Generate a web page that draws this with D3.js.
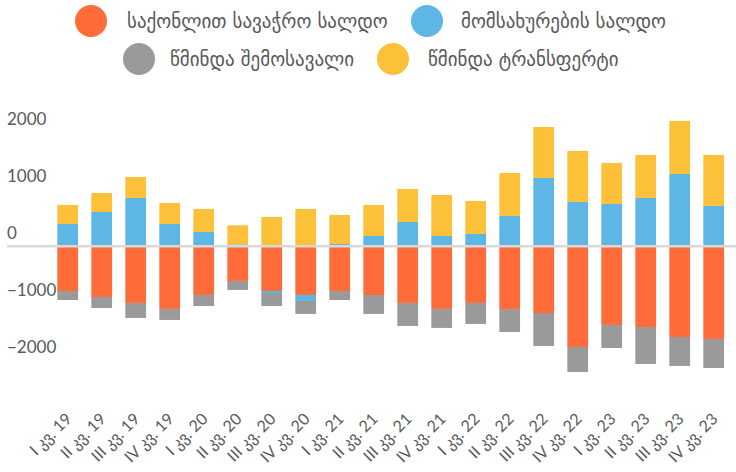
<!DOCTYPE html>
<html>
<head>
<meta charset="utf-8">
<script src="https://cdn.jsdelivr.net/npm/d3@7"></script>
<style>
  body { margin: 0; background: #fff; }
  text { font-family: "DejaVu Sans", sans-serif; }
</style>
</head>
<body>
<svg width="736" height="472"></svg>
<script>
var svg = d3.select('svg');

//quarter labels on the x axis
var categories = ['I კვ. 19','II კვ. 19','III კვ. 19','IV კვ. 19',
                  'I კვ. 20','II კვ. 20','III კვ. 20','IV კვ. 20',
                  'I კვ. 21','II კვ. 21','III კვ. 21','IV კვ. 21',
                  'I კვ. 22','II კვ. 22','III კვ. 22','IV კვ. 22',
                  'I კვ. 23','II კვ. 23','III კვ. 23','IV კვ. 23'];

//series values
var trade     = [-784,-889,-994,-1099,-854,-608,-784,-854,-784,-854,-994,-1099,-994,-1099,-1170,-1766,-1380,-1415,-1591,-1626];
var services  = [392,602,848,392,251,35,-35,-105,41,181,427,181,216,532,1199,778,743,848,1269,708];
var income    = [-158,-193,-263,-193,-193,-158,-228,-228,-158,-333,-404,-333,-368,-404,-579,-439,-404,-649,-509,-509];
var transfers = [333,333,368,368,404,333,515,655,509,544,579,719,579,754,895,895,719,754,930,895];

var seriesNames = ['საქონლით სავაჭრო სალდო','მომსახურების სალდო','წმინდა შემოსავალი','წმინდა ტრანსფერტი'];
var yTicks = [-2000,-1000,0,1000,2000];

var colors = ['#ff6b39','#5eb6e4','#9a9a9a','#fdc139'];
var keys = ['trade','services','income','transfers'];

//build rows for the stack layout
var rows = categories.map(function(c, i){
    return {cat: c, trade: trade[i], services: services[i], income: income[i], transfers: transfers[i]};
});

var stacked = d3.stack().keys(keys).offset(d3.stackOffsetDiverging)(rows);

var scaleX = d3.scaleBand().domain(categories).range([50.7, 730.7]).paddingInner(0.39).paddingOuter(0.195);
var scaleY = d3.scaleLinear().domain([-2000, 2000]).range([360.3, 132.3]);

//bars
svg.append('g').selectAll('g')
    .data(stacked)
    .enter()
    .append('g')
    .attr('fill', function(d, i){ return colors[i]; })
    .selectAll('rect')
    .data(function(d){ return d; })
    .enter()
    .append('rect')
    .attr('x', function(d){ return scaleX(d.data.cat); })
    .attr('width', scaleX.bandwidth())
    .attr('y', function(d){ return scaleY(Math.max(d[0], d[1])); })
    .attr('height', function(d){ return Math.abs(scaleY(d[0]) - scaleY(d[1])); });

//zero line on top of the bars
svg.append('line')
    .attr('x1', 7).attr('x2', 736)
    .attr('y1', scaleY(0)).attr('y2', scaleY(0))
    .attr('stroke', '#d9d9d9')
    .attr('stroke-width', 2.6);

//y axis labels (sit a little above their value)
var yAxis = svg.append('g')
    .attr('transform', 'translate(7,0)')
    .call(d3.axisLeft(scaleY).tickValues(yTicks).tickSize(0).tickFormat(d3.format('d')));
yAxis.select('.domain').remove();
yAxis.selectAll('text')
    .attr('x', 0)
    .attr('dy', '0.32em')
    .attr('transform', 'translate(0,-13.5)')
    .style('text-anchor', 'start')
    .style('font-family', 'Lato, sans-serif')
    .style('font-size', '17px')
    .attr('fill', '#595959');

//x labels, rotated
svg.append('g').selectAll('text')
    .data(categories)
    .enter()
    .append('text')
    .text(function(d){ return d; })
    .attr('transform', function(d){
        return 'translate(' + (scaleX(d) + scaleX.bandwidth() / 2 + 5) + ',420)rotate(-45)';
    })
    .style('text-anchor', 'end')
    .style('font-family', 'Lato, "DejaVu Sans", sans-serif')
    .style('font-size', '16px')
    .attr('fill', '#595959');

//legend
var legend = [
    {x: 91, y: 21, tx: 127},
    {x: 427, y: 21, tx: 461},
    {x: 139, y: 59, tx: 170},
    {x: 393, y: 59, tx: 428}
];

var lg = svg.append('g').selectAll('g')
    .data(legend)
    .enter()
    .append('g');

lg.append('circle')
    .attr('cx', function(d){ return d.x; })
    .attr('cy', function(d){ return d.y; })
    .attr('r', 16)
    .attr('fill', function(d, i){ return colors[i]; });

lg.append('text')
    .text(function(d, i){ return seriesNames[i]; })
    .attr('x', function(d){ return d.tx; })
    .attr('y', function(d){ return d.y; })
    .attr('dy', '0.35em')
    .style('font-size', '19px')
    .attr('fill', '#595959');
</script>
</body>
</html>
